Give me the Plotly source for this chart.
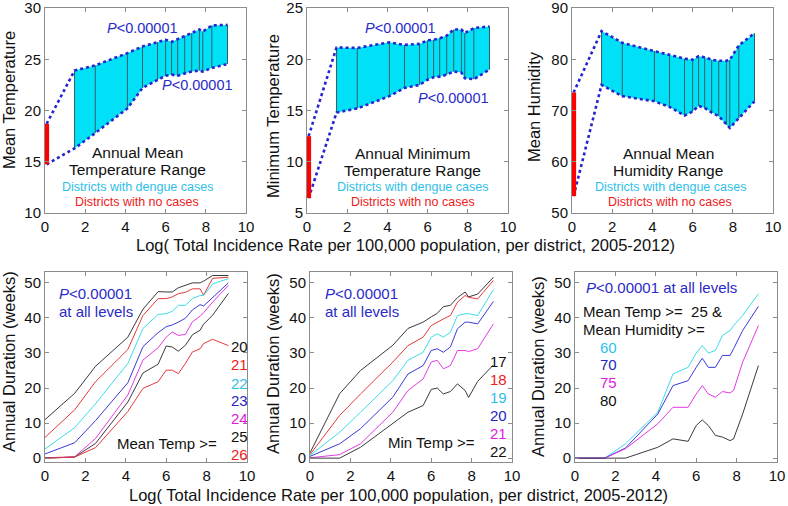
import plotly.graph_objects as go

# ---------------- data ----------------
log_bins = [1.47, 2.5, 4.1, 4.85, 5.6, 6.0, 6.3, 6.6, 6.95, 7.3, 7.68, 7.85, 8.3, 9.08]
no_case_x = 0.08

mean_temp_upper = [23.9, 24.4, 25.6, 26.25, 26.65, 26.9, 26.7, 26.95, 27.3, 27.55, 27.9, 27.7, 28.3, 28.35]
mean_temp_lower = [16.3, 17.8, 20.2, 22.2, 23.0, 23.4, 23.5, 23.4, 23.6, 23.8, 23.9, 23.8, 24.15, 24.55]
mean_temp_nocase = [14.75, 18.7]

min_temp_upper = [21.15, 21.1, 21.65, 21.4, 21.5, 21.85, 21.9, 22.05, 22.3, 22.9, 22.9, 22.55, 23.05, 23.2]
min_temp_lower = [14.8, 15.2, 16.4, 17.2, 17.5, 18.0, 18.25, 18.3, 18.5, 18.8, 18.7, 18.15, 18.05, 19.0]
min_temp_nocase = [6.45, 12.5]

humidity_upper = [85.5, 83.2, 81.6, 80.9, 80.1, 79.9, 80.6, 80.4, 79.9, 79.7, 79.7, 79.9, 82.7, 85.1]
humidity_lower = [75.0, 72.8, 71.8, 70.7, 69.0, 69.8, 70.9, 70.5, 69.6, 68.9, 67.2, 66.6, 68.5, 71.8]
humidity_nocase = [53.3, 73.5]

dur_x = [0.0] + log_bins

dur_mean_temp = {
    "20": [11, 18.5, 26.2, 34.5, 42.5, 47.5, 47.4, 47.4, 48.6, 49.2, 50, 50, 50.5, 52.1, 52.1],
    "21": [5.9, 13.8, 21.8, 31, 40.7, 45.5, 45.5, 46, 46.9, 47.3, 48.3, 48.3, 46.5, 51.3, 51.6],
    "22": [2.6, 8.7, 15.5, 27, 37, 41, 41.2, 41.9, 43.6, 43.6, 45.5, 46.4, 46.4, 49.7, 51.2],
    "23": [1.2, 4.4, 10.7, 21.5, 31.8, 35.8, 37.5, 38, 38.8, 39.9, 42.3, 43.8, 43.4, 45.9, 50],
    "24": [0.1, 0.4, 5.6, 18, 28, 31.5, 34.5, 36, 35, 35.3, 38.9, 40.5, 41.5, 44.5, 49.3],
    "25": [0, 0.3, 4.2, 16, 24.3, 26.8, 32, 31.7, 30.5, 32.2, 35.2, 36.5, 38.2, 40.8, 47],
    "26": [0, 0.3, 3, 13.3, 19.9, 21.8, 25.1, 25.1, 24.1, 27, 30.3, 31.2, 32.7, 33.9, 32.1],
}
dur_min_temp = {
    "17": [1.5, 18.4, 25, 32.2, 37, 38.8, 40.3, 41.3, 43.2, 43.6, 45.8, 47.4, 46, 46.8, 51.6],
    "18": [1.0, 12.2, 18.3, 27.4, 32.1, 34.5, 37.8, 38.8, 39.7, 40.7, 44.5, 46.4, 45.9, 45.4, 50.7],
    "19": [0.8, 7.4, 13.1, 22.1, 27.9, 30.2, 34.5, 35.5, 34.5, 35.9, 40.7, 41.2, 41.2, 40.7, 48.1],
    "20": [0.5, 4.1, 8.4, 17.4, 24, 26.4, 30.7, 31.2, 30.2, 31.7, 36.9, 38.8, 38.8, 38.3, 44.7],
    "21": [0.1, 1.0, 4.1, 13.1, 19.3, 22.6, 27.4, 27.9, 25.5, 26.4, 30.7, 30.7, 30.4, 31.2, 38.3],
    "22": [0, 0, 3.1, 9.8, 13.1, 15, 19.6, 20, 18.3, 19, 21.2, 19.3, 17.3, 21.9, 26.6],
}
dur_humidity = {
    "60": [0, 0, 4.1, 13.1, 24, 25.9, 30, 32.1, 30, 30.7, 35, 36.4, 37.8, 40.7, 46.9],
    "70": [0, 0, 2.9, 12.6, 20.7, 22.1, 25.9, 28.5, 25.9, 25.9, 29.3, 29.3, 31.2, 36.4, 43.3],
    "75": [0, 0, 2.7, 9.8, 14.5, 14.5, 18.3, 20.7, 18.3, 17.4, 19, 18.6, 19.3, 27.4, 37.8],
    "80": [0, 0, 0, 3.1, 5.5, 4.8, 9.3, 10.9, 9.3, 6.5, 6, 5, 5.5, 12.6, 26.4],
}

x_ticks = [0, 2, 4, 6, 8, 10]
x_title = "Log( Total Incidence Rate per 100,000 population, per district, 2005-2012)"

# ---------------- styles ----------------
FONT = "Arial, Liberation Sans, sans-serif"
CYAN_FILL = "#00e1f8"
DOT_BLUE = "#2424d0"
P_BLUE = "#2a2ac8"
LINE_COLORS = {"k": "#3a3a3a", "r": "#e23a3a", "c": "#3cdcea", "b": "#3a3ad8", "m": "#e23ae2"}
TXT_COLORS = {"k": "#111111", "r": "#ee2020", "c": "#2ec0e8", "b": "#2424c0", "m": "#e020e0"}
mt_cols = ["k", "r", "c", "b", "m", "k", "r"]
mn_cols = ["k", "r", "c", "b", "m", "k"]
hu_cols = ["c", "b", "m", "k"]

W, H = 788, 506
def px_x(p): return p / W
def px_y(p): return 1 - p / H

fig = go.Figure()

boxes = {
    1: (45, 246, 8, 213), 2: (307, 508, 8, 213), 3: (572, 773, 8, 213),
    4: (45, 247, 272, 462), 5: (310, 512, 272, 462), 6: (575, 777, 272, 462),
}
yranges = {1: [10, 30], 2: [5, 25], 3: [50, 90], 4: [-1.1, 53.1], 5: [-1.1, 53.1], 6: [-1.1, 53.1]}
yticks = {1: [10, 15, 20, 25, 30], 2: [5, 10, 15, 20, 25], 3: [50, 60, 70, 80, 90],
          4: [0, 10, 20, 30, 40, 50], 5: [0, 10, 20, 30, 40, 50], 6: [0, 10, 20, 30, 40, 50]}

axcommon = dict(showgrid=False, zeroline=False, showline=True, mirror="ticks",
                linecolor="#8c8c8c", linewidth=1, ticks="inside", ticklen=4,
                tickcolor="#8c8c8c", ticklabeloverflow="allow", automargin=False,
                tickfont=dict(family=FONT, size=15, color="#111"))
layout = {}
for i, (x0, x1, y0, y1) in boxes.items():
    s = "" if i == 1 else str(i)
    layout["xaxis" + s] = dict(domain=[px_x(x0), px_x(x1)], range=[0, 10], tickvals=x_ticks,
                               anchor="y" + s, **axcommon)
    layout["yaxis" + s] = dict(domain=[px_y(y1), px_y(y0)], range=yranges[i], tickvals=yticks[i],
                               anchor="x" + s, **axcommon)

# ---------------- top range panels ----------------
def range_panel(ax, upper, lower, nocase):
    xa = "x" if ax == 1 else "x" + str(ax)
    ya = "y" if ax == 1 else "y" + str(ax)
    fig.add_trace(go.Scatter(x=log_bins + log_bins[::-1], y=upper + lower[::-1], fill="toself",
                             fillcolor=CYAN_FILL, line=dict(width=0), mode="lines",
                             xaxis=xa, yaxis=ya, showlegend=False, hoverinfo="skip"))
    vx, vy = [], []
    for xv, u, l in zip(log_bins, upper, lower):
        vx += [xv, xv, None]
        vy += [l, u, None]
    fig.add_trace(go.Scatter(x=vx, y=vy, mode="lines", line=dict(color="#2f5f6a", width=1),
                             xaxis=xa, yaxis=ya, showlegend=False, hoverinfo="skip"))
    for top, edge in ((nocase[1], upper), (nocase[0], lower)):
        fig.add_trace(go.Scatter(x=[no_case_x] + log_bins, y=[top] + edge, mode="lines",
                                 line=dict(color=DOT_BLUE, width=2.6, dash="dot"),
                                 xaxis=xa, yaxis=ya, showlegend=False, hoverinfo="skip"))
    fig.add_trace(go.Scatter(x=[no_case_x, no_case_x], y=nocase, mode="lines",
                             line=dict(color="#ff0000", width=5),
                             xaxis=xa, yaxis=ya, showlegend=False, hoverinfo="skip"))

range_panel(1, mean_temp_upper, mean_temp_lower, mean_temp_nocase)
range_panel(2, min_temp_upper, min_temp_lower, min_temp_nocase)
range_panel(3, humidity_upper, humidity_lower, humidity_nocase)

# ---------------- bottom duration panels ----------------
def dur_panel(ax, series, cols):
    xa, ya = "x" + str(ax), "y" + str(ax)
    for (k, vals), c in zip(series.items(), cols):
        fig.add_trace(go.Scatter(x=dur_x, y=vals, mode="lines",
                                 line=dict(color=LINE_COLORS[c], width=1),
                                 xaxis=xa, yaxis=ya, showlegend=False, name=k))

dur_panel(4, dur_mean_temp, mt_cols)
dur_panel(5, dur_min_temp, mn_cols)
dur_panel(6, dur_humidity, hu_cols)

# ---------------- annotations ----------------
ann = []
def A(text, x, y, ax, size=15, color="#111", xanchor="center", xshift=0):
    s = "" if ax == 1 else str(ax)
    ann.append(dict(text=text, x=x, y=y, xref="x" + s, yref="y" + s, showarrow=False,
                    xanchor=xanchor, yanchor="middle", xshift=xshift,
                    font=dict(family=FONT, size=size, color=color)))

PTXT = "<i>P</i>&lt;0.00001"
# top-left
A(PTXT, 4.85, 28.05, 1, 14.5, P_BLUE)
A(PTXT, 7.6, 22.5, 1, 14.5, P_BLUE)
A("Annual Mean", 4.6, 15.9, 1, 15.5)
A("Temperature Range", 4.6, 14.2, 1, 15.5)
A("Districts with dengue cases", 4.6, 12.5, 1, 12.5, TXT_COLORS["c"])
A("Districts with no cases", 4.6, 11.07, 1, 12.5, TXT_COLORS["r"])
# top-middle
A(PTXT, 4.65, 23.05, 2, 14.5, P_BLUE)
A(PTXT, 7.3, 16.2, 2, 14.5, P_BLUE)
A("Annual Minimum", 5.25, 10.85, 2, 15.5)
A("Temperature Range", 5.25, 9.1, 2, 15.5)
A("Districts with dengue cases", 5.25, 7.54, 2, 12.5, TXT_COLORS["c"])
A("Districts with no cases", 5.25, 6.07, 2, 12.5, TXT_COLORS["r"])
# top-right
A("Annual Mean", 4.8, 61.7, 3, 15.5)
A("Humidity Range", 4.8, 58.2, 3, 15.5)
A("Districts with dengue cases", 4.9, 55.07, 3, 12.5, TXT_COLORS["c"])
A("Districts with no cases", 4.9, 52.1, 3, 12.5, TXT_COLORS["r"])
# bottom-left
A(PTXT, 0.6, 47.1, 4, 15, P_BLUE, "left")
A("at all levels", 0.6, 41.7, 4, 15, P_BLUE, "left")
mt_y = [31.8, 26.6, 21.3, 16.4, 11.3, 6.1, 1.1]
for (k, _), c, yv in zip(dur_mean_temp.items(), mt_cols, mt_y):
    A(k, 9.98, yv, 4, 15, TXT_COLORS[c], "right", xshift=3)
A("Mean Temp &gt;=", 8.6, 4.3, 4, 15, "#111", "right")
# bottom-middle
A(PTXT, 0.62, 47.1, 5, 15, P_BLUE, "left")
A("at all levels", 0.62, 41.7, 5, 15, P_BLUE, "left")
mn_y = [27.5, 22.3, 17.2, 12.1, 7.0, 1.8]
for (k, _), c, yv in zip(dur_min_temp.items(), mn_cols, mn_y):
    A(k, 9.85, yv, 5, 15, TXT_COLORS[c], "right")
A("Min Temp &gt;=", 8.25, 4.4, 5, 15, "#111", "right")
# bottom-right
A(PTXT + " at all levels", 0.45, 48.8, 6, 15, P_BLUE, "left")
A("Mean Temp &gt;=\u00a0\u00a025 &amp;", 0.3, 41.8, 6, 15, "#111", "left")
A("Mean Humidity &gt;=", 0.3, 36.8, 6, 15, "#111", "left")
hu_y = [31.7, 26.6, 21.5, 16.4]
for (k, _), c, yv in zip(dur_humidity.items(), hu_cols, hu_y):
    A(k, 1.65, yv, 6, 15, TXT_COLORS[c], "center")

# axis titles (paper coordinates)
def P(text, xp, yp, angle=0, size=16.5):
    ann.append(dict(text=text, x=px_x(xp), y=px_y(yp), xref="paper", yref="paper",
                    showarrow=False, xanchor="center", yanchor="middle", textangle=angle,
                    font=dict(family=FONT, size=size, color="#111")))

P("Mean Temperature", 9, 100, -90)
P("Minimum Temperature", 273, 116, -90)
P("Mean Humidity", 534, 107, -90)
P("Annual Duration (weeks)", 9, 362, -90)
P("Annual Duration (weeks)", 273, 364, -90)
P("Annual Duration (weeks)", 538, 367, -90)
P(x_title, 405, 245)
P(x_title, 398, 495)

fig.update_layout(**layout)
fig.update_layout(annotations=ann, width=W, height=H, margin=dict(l=0, r=0, t=0, b=0, pad=0),
                  plot_bgcolor="white", paper_bgcolor="white", showlegend=False,
                  font=dict(family=FONT))
fig.write_html("out.html", config={"displayModeBar": False},
               post_script="document.body.style.margin='0';")
